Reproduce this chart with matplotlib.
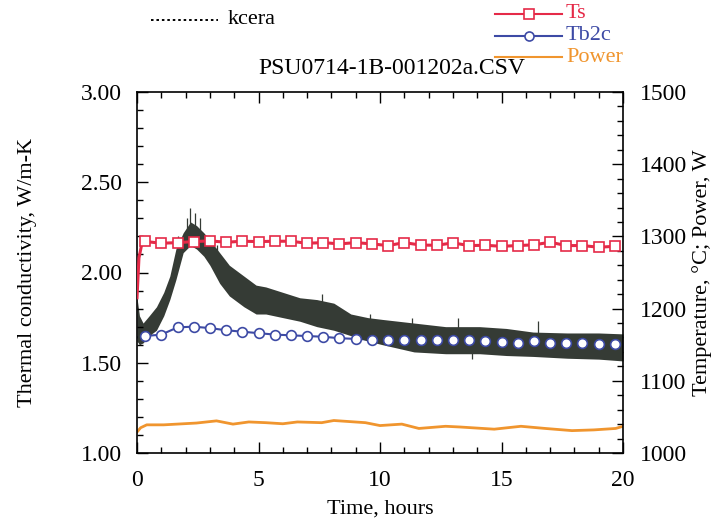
import matplotlib
matplotlib.use('Agg')
import matplotlib.pyplot as plt
from matplotlib.lines import Line2D
from matplotlib.ticker import MultipleLocator, FormatStrFormatter

plt.rcParams['font.family'] = ['Liberation Serif', 'DejaVu Serif']

# kcera: noisy band, read as lower / upper envelope (W/m-K)
kc_t = [0.0, 0.1, 0.25, 0.5, 0.8, 1.1, 1.35, 1.6, 1.9, 2.2, 2.45, 2.75, 3.0, 3.4, 3.8,
        4.4, 4.9, 5.3, 6.0, 6.7, 7.4, 8.1, 8.8, 9.5, 10.1, 11.4, 12.7, 14.1, 15.2,
        16.3, 17.7, 19.0, 20.0]
kc_hi = [1.86, 1.76, 1.72, 1.76, 1.81, 1.89, 1.98, 2.13, 2.22, 2.28, 2.26, 2.22, 2.18,
         2.11, 2.04, 1.98, 1.93, 1.92, 1.89, 1.86, 1.85, 1.83, 1.77, 1.75, 1.74, 1.72,
         1.70, 1.70, 1.69, 1.67, 1.665, 1.665, 1.66]
kc_lo = [1.62, 1.60, 1.61, 1.65, 1.68, 1.76, 1.85, 1.96, 2.11, 2.15, 2.13, 2.09, 2.04,
         1.94, 1.87, 1.81, 1.77, 1.77, 1.75, 1.73, 1.70, 1.68, 1.65, 1.62, 1.60, 1.56,
         1.55, 1.55, 1.54, 1.535, 1.525, 1.52, 1.51]
# single spikes sticking out of the band
sp_t = [1.7, 2.05, 2.2, 2.4, 2.6, 3.3, 7.6, 9.6, 11.3, 13.2, 13.8, 16.5]
sp_lo = [2.05, 2.15, 2.2, 2.18, 2.15, 2.05, 1.80, 1.70, 1.68, 1.66, 1.52, 1.64]
sp_hi = [2.20, 2.30, 2.36, 2.33, 2.30, 2.15, 1.88, 1.77, 1.75, 1.75, 1.56, 1.73]

# marker times for Ts and Tb2c (hours)
mk_t = [0.33, 1.0, 1.67, 2.33, 3.0, 3.67, 4.33, 5.0, 5.67, 6.33, 7.0, 7.67, 8.33, 9.0, 9.67,
        10.33, 11.0, 11.67, 12.33, 13.0, 13.67, 14.33, 15.0, 15.67, 16.33, 17.0, 17.67,
        18.33, 19.0, 19.67]
ts = [1293, 1290.5, 1291.4, 1292.8, 1293.8, 1291.9, 1293.3, 1292.8, 1293.3, 1293.3,
      1290.5, 1291.4, 1289.6, 1291.4, 1289.6, 1287.3, 1291.4, 1288, 1287.7, 1291, 1287.3,
      1287.7, 1286.3, 1287.3, 1288.3, 1291.9, 1287.3, 1287.3, 1285, 1286.3]
ts_start_t = [0.0, 0.08, 0.2]
ts_start = [1215, 1270, 1290]
tb = [1162, 1164, 1174, 1175, 1173, 1170, 1168, 1166, 1164, 1163, 1162, 1161, 1159, 1158,
      1157, 1156, 1157, 1156, 1156, 1156, 1156, 1155, 1154, 1153, 1155, 1152, 1152, 1152,
      1151, 1151]
tb_start_t = [0.0]
tb_start = [1160]

pw_t = [0, 0.15, 0.4, 1.1, 2.45, 3.27, 3.95, 4.6, 5.3, 6.0, 6.6, 7.6, 8.1, 9.4, 10.0,
        10.9, 11.6, 12.7, 13.3, 14.7, 15.8, 16.8, 17.9, 18.8, 19.7, 20.0]
pw = [1029, 1035, 1039, 1039, 1041.5, 1044.5, 1040, 1043, 1042, 1040.5, 1043, 1042, 1045,
      1042, 1038, 1040, 1034, 1037, 1036, 1033, 1037, 1034, 1031, 1032, 1034, 1037]

RED = '#e52a48'
BLUE = '#3d4aa5'
ORANGE = '#f0952e'
DARK = '#353b35'

fig = plt.figure(figsize=(7.14, 5.21), dpi=100)
fig.patch.set_facecolor('white')
rect = [137 / 714, 1 - 453 / 521, (623 - 137) / 714, (453 - 92) / 521]

ax2 = fig.add_axes(rect)          # temperature, behind the band
ax1 = fig.add_axes(rect)          # kcera band
ax3 = fig.add_axes(rect)          # temperature markers on top
for a, z in ((ax2, 1), (ax1, 2), (ax3, 3)):
    a.set_zorder(z)
    a.patch.set_visible(False)

ax2.plot(tb_start_t + mk_t, tb_start + tb, color=BLUE, lw=1.5)
ax2.plot(pw_t, pw, color=ORANGE, lw=2)

ax1.fill_between(kc_t, kc_lo, kc_hi, color=DARK, lw=0)
ax1.vlines(sp_t, sp_lo, sp_hi, color=DARK, lw=0.9)

ax3.plot(ts_start_t + mk_t, ts_start + ts, color=RED, lw=2.2)
ax3.plot(mk_t, ts, ls='none', marker='s', ms=6.5, mfc='white', mec=RED, mew=1.2)
ax3.plot(mk_t, tb, ls='none', marker='o', ms=7, mfc='white', mec=BLUE, mew=1.2)

for a in (ax1, ax2, ax3):
    a.set_xlim(0, 20)
ax1.set_ylim(1.0, 3.0)
ax2.set_ylim(1000, 1500)
ax3.set_ylim(1000, 1500)

ax1.xaxis.set_major_locator(MultipleLocator(5))
ax1.xaxis.set_minor_locator(MultipleLocator(1))
ax1.yaxis.set_major_locator(MultipleLocator(0.5))
ax1.yaxis.set_minor_locator(MultipleLocator(0.1))
ax1.yaxis.set_major_formatter(FormatStrFormatter('%.2f'))
ax1.tick_params(which='both', direction='in', top=True, right=False, labelsize=17)
ax1.tick_params(which='major', length=8, width=1)
ax1.tick_params(which='minor', length=4, width=1)
ax1.tick_params(axis='y', pad=11)
ax1.tick_params(axis='x', pad=12)

ax2.yaxis.tick_right()
ax2.yaxis.set_major_locator(MultipleLocator(100))
ax2.yaxis.set_minor_locator(MultipleLocator(20))
ax2.tick_params(which='both', direction='in', labelsize=17, bottom=False, top=False,
                labelbottom=False, left=False, right=True, pad=12)
ax2.tick_params(which='major', length=8, width=1)
ax2.tick_params(which='minor', length=4, width=1)
ax3.axis('off')
for s in ax2.spines.values():
    s.set_visible(False)
for s in ax1.spines.values():
    s.set_linewidth(1.2)

ax1.set_xlabel('Time, hours', fontsize=16)
ax1.xaxis.set_label_coords(0.5, -0.13)
ax1.set_ylabel('Thermal conductivity, W/m-K', fontsize=16, va='center')
ax1.yaxis.set_label_coords((28 - 137) / 486, 0.5)
ax2.yaxis.set_label_position('right')
ax2.set_ylabel('Temperature, °C; Power, W', fontsize=16, rotation=90, va='center')
ax2.yaxis.set_label_coords((702 - 137) / 486, 0.5)

fig.text(392 / 714, 1 - 69 / 521, 'PSU0714-1B-001202a.CSV', fontsize=17,
         ha='center', va='center')

# legends drawn in figure pixels
def fx(px):
    return px / 714

def fy(py):
    return 1 - py / 521

fig.add_artist(Line2D([fx(151), fx(218)], [fy(20), fy(20)], color='black', lw=1.4, ls=(0, (1.3, 1.5))))
fig.text(fx(228), fy(20), 'kcera', fontsize=16, va='center', ha='left')
leg = [('Ts', RED, 's', 14), ('Tb2c', BLUE, 'o', 36), ('Power', ORANGE, None, 57)]
for name, col, mk, py in leg:
    fig.add_artist(Line2D([fx(495), fx(562)], [fy(py), fy(py)], color=col, lw=1.5))
    if mk:
        fig.add_artist(Line2D([fx(528.5)], [fy(py)], color=col, marker=mk, ms=6.5,
                              mfc='white', mec=col, mew=1.2))
    fig.text(fx(566), fy(py), name, fontsize=16, color=col, va='center', ha='left')

fig.savefig('out.png', dpi=100, facecolor='white')
